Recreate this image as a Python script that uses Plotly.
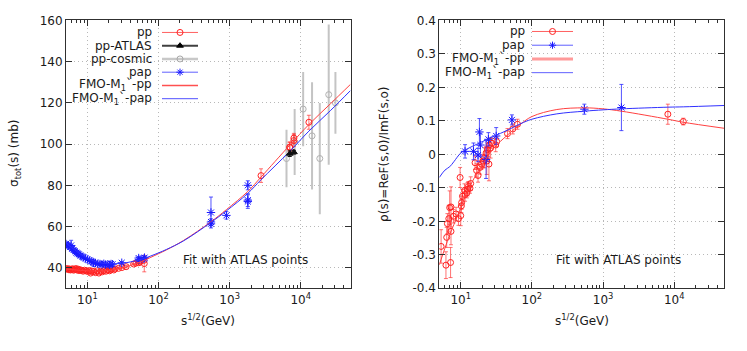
import plotly.graph_objects as go

# ---------------- sigma_tot data (left panel) ----------------
pp_lo_x = [5.0, 5.2, 5.5, 5.6, 5.8, 6.0, 6.2, 6.4, 6.6, 6.9, 7.1, 7.4, 7.6, 7.9, 8.3, 8.7,
           9.1, 9.6, 10.0, 10.6, 11.1, 11.5, 12.3, 13.0, 13.7, 14.5, 15.4, 16.2, 17.0, 18.2,
           19.4, 20.5, 21.7, 23.5, 24.5, 27.4, 30.6, 35.0, 44.7, 48.0, 52.8, 55.0, 62.5, 63.0]
pp_lo_y = [39.3, 39.6, 39.0, 39.4, 38.9, 39.2, 39.5, 38.8, 39.1, 39.6, 38.9, 39.3, 38.6, 39.0,
           38.7, 38.3, 38.8, 38.5, 38.2, 38.6, 37.4, 38.4, 38.1, 37.6, 38.5, 37.4, 38.3, 38.0,
           38.6, 38.3, 38.8, 38.5, 39.2, 38.9, 39.4, 39.7, 40.1, 40.5, 41.8, 42.2, 42.4, 42.8,
           43.6, 42.0]
pp_lo_err = [0.4, 0.5, 0.3, 0.6, 0.4, 0.3, 0.5, 0.4, 0.3, 0.6, 0.3, 0.4, 0.5, 0.3, 0.4, 0.5,
             0.3, 0.4, 0.6, 0.3, 0.7, 0.3, 0.4, 0.5, 0.3, 0.6, 0.4, 0.5, 0.3, 0.4, 0.3, 0.5,
             0.3, 0.3, 0.4, 0.3, 0.3, 0.6, 0.3, 0.8, 0.3, 0.7, 0.4, 4.0]

pp_hi_x = [2760, 7000, 7000, 8000, 8000, 13000]
pp_hi_y = [84.7, 98.3, 98.6, 101.7, 102.9, 110.6]
pp_hi_err = [3.3, 2.8, 2.2, 2.9, 2.3, 3.4]

atlas_x = [7000, 8000]
atlas_y = [95.35, 96.07]
atlas_err = [1.36, 0.92]

cosmic_x = [6300, 8200, 10800, 14400, 18500, 24700, 30700]
cosmic_y = [93, 101, 117, 104, 93, 124, 120]
cosmic_err = [14, 16, 18, 26, 27, 34, 15]

pap_x = [5.0, 5.2, 5.4, 5.7, 5.9, 6.1, 6.4, 6.7, 7.0, 7.3, 7.6, 8.0, 8.4, 8.9, 9.4, 10.0,
         10.6, 11.3, 12.0, 12.2, 13.0, 14.0, 15.0, 16.0, 17.0, 18.0, 19.4, 20.5, 21.5, 22.6,
         30.4, 52.6, 53.0, 62.3, 63.5, 546, 546, 546, 900, 1800, 1800, 1800]
pap_y = [51.5, 51.0, 50.6, 50.0, 50.8, 49.2, 48.6, 48.0, 47.3, 46.9, 46.5, 45.9, 45.4, 45.0,
         44.5, 44.0, 43.6, 43.1, 42.8, 42.3, 42.3, 41.9, 41.8, 41.6, 41.9, 41.5, 41.7, 41.4,
         41.8, 41.7, 42.4, 44.7, 43.9, 44.4, 44.9, 66.8, 62.2, 61.3, 65.4, 80.0, 72.8, 72.1]
pap_err = [0.6, 0.5, 0.6, 0.5, 2.5, 0.5, 0.4, 0.5, 0.4, 0.5, 0.4, 0.5, 0.4, 0.5, 0.4, 0.5,
           0.4, 0.4, 0.5, 1.6, 0.4, 0.4, 0.5, 0.4, 0.4, 0.5, 0.4, 0.4, 0.5, 0.4, 0.5, 0.6,
           0.9, 0.5, 0.8, 7.5, 1.5, 0.9, 1.8, 2.2, 3.1, 3.3]

fit_sig_x = [5, 6, 7, 8, 10, 12, 15, 20, 30, 40, 60, 100, 130, 224, 546, 900, 1800, 2760,
             7000, 13000, 26000, 50000]
fit_sig_pp = [39.3, 39.1, 38.9, 38.7, 38.5, 38.4, 38.4, 38.7, 39.8, 41.0, 43.3, 46.8, 48.7,
              53.2, 62.3, 68.2, 77.0, 84.0, 99.5, 109.5, 119.5, 129.0]
fit_sig_pap = [52.0, 49.8, 48.0, 46.6, 44.6, 43.4, 42.4, 41.9, 42.1, 42.8, 44.3, 47.2, 48.9,
               53.0, 62.0, 67.6, 76.1, 82.7, 96.5, 106.3, 116.2, 126.0]

# ---------------- rho data (right panel) ----------------
rho_pp_x = [5.3, 6.2, 7.2, 7.3, 6.35, 6.5, 6.8, 7.0, 7.3, 7.9, 8.6, 9.3, 10.0, 10.2, 10.3,
            9.8, 10.6, 11.3, 11.5, 12.2, 12.5, 12.8, 13.5, 13.8, 15.9, 16.7, 17.5, 18.7, 19.6,
            20.6, 21.6, 22.7, 23.2, 23.8, 24.9, 25.1, 26.3, 27.5, 31.0, 32.0, 45.4, 53.9,
            62.8, 8130, 13400]
rho_pp_y = [-0.275, -0.331, -0.323, -0.23, -0.248, -0.207, -0.192, -0.159, -0.157, -0.185,
            -0.178, -0.192, -0.183, -0.154, -0.144, -0.069, -0.125, -0.108, -0.12, -0.115,
            -0.104, -0.096, -0.101, -0.087, -0.025, -0.048, -0.063, -0.039, -0.029, -0.02,
            -0.01, 0.004, -0.02, 0.014, -0.029, 0.028, 0.019, 0.033, 0.028, 0.038, 0.062,
            0.076, 0.09, 0.12, 0.098]
rho_pp_err = [0.05, 0.04, 0.045, 0.04, 0.03, 0.03, 0.04, 0.05, 0.06, 0.02, 0.02, 0.02, 0.03,
              0.02, 0.02, 0.03, 0.02, 0.02, 0.02, 0.015, 0.02, 0.015, 0.015, 0.02, 0.02, 0.02,
              0.02, 0.02, 0.015, 0.02, 0.03, 0.02, 0.04, 0.02, 0.05, 0.02, 0.03, 0.015, 0.02,
              0.015, 0.015, 0.015, 0.015, 0.03, 0.01]

rho_pap_x = [11.5, 15.1, 17.5, 18.3, 18.9, 22.7, 24.5, 31.5, 52.4, 546, 1810]
rho_pap_y = [0.009, 0.009, -0.002, 0.067, 0.028, -0.015, 0.045, 0.055, 0.103, 0.135, 0.140]
rho_pap_err = [0.02, 0.025, 0.02, 0.04, 0.035, 0.057, 0.02, 0.025, 0.015, 0.015, 0.069]

fit_rho_x = [5, 6, 7, 8, 10, 12.5, 16.7, 20, 25, 30, 45, 70, 100, 224, 546, 1000, 1810,
             8130, 13400, 50000]
fit_rho_pp = [-0.33, -0.28, -0.24, -0.21, -0.16, -0.11, -0.058, -0.033, 0.0, 0.022, 0.057,
              0.091, 0.113, 0.134, 0.139, 0.136, 0.129, 0.105, 0.096, 0.078]
fit_rho_pap = [-0.069, -0.047, -0.037, -0.022, 0.004, 0.017, 0.030, 0.038, 0.047, 0.055,
               0.072, 0.092, 0.105, 0.121, 0.129, 0.133, 0.136, 0.141, 0.142, 0.146]

x_tickvals = [10, 100, 1000, 10000]
x_ticktext = ['10<sup>1</sup>', '10<sup>2</sup>', '10<sup>3</sup>', '10<sup>4</sup>']
sig_ticks = [40, 60, 80, 100, 120, 140, 160]
rho_ticks = [-0.4, -0.3, -0.2, -0.1, 0, 0.1, 0.2, 0.3, 0.4]
rho_ticktext = ['-0.4', '-0.3', '-0.2', '-0.1', '0', '0.1', '0.2', '0.3', '0.4']

RED = '#ff2020'
RED_ERR = 'rgba(255,40,40,0.65)'
BLUE = '#1a1aff'
BLUE_ERR = 'rgba(40,40,255,0.8)'
FONT = 'DejaVu Sans'
TXT = '#1a1a1a'
W, H = 747, 351


def px(x):
    return x / W


def py(y):
    return 1 - y / H


minor_vals = [m * 10 ** k for k in range(0, 5) for m in range(2, 10) if 5 <= m * 10 ** k <= 50000]

fig = go.Figure()


def data_trace(x, y, err, xa, ya, symbol, color, ecolor, size=6, ewidth=2, ethick=1, lw=1):
    return go.Scatter(
        x=x, y=y, mode='markers', xaxis=xa, yaxis=ya, showlegend=False,
        marker=dict(symbol=symbol, size=size, color=color, line=dict(color=color, width=lw)),
        error_y=dict(type='data', array=err, visible=True, color=ecolor,
                     thickness=ethick, width=ewidth)
    )


# left panel
fig.add_trace(data_trace(cosmic_x, cosmic_y, cosmic_err, 'x', 'y', 'circle-open', '#b0b0b0',
                         'rgba(190,190,190,0.9)', ewidth=0, ethick=2))
fig.add_trace(data_trace(pp_lo_x, pp_lo_y, pp_lo_err, 'x', 'y', 'circle-open', RED, RED_ERR))
fig.add_trace(data_trace(pp_hi_x, pp_hi_y, pp_hi_err, 'x', 'y', 'circle-open', RED, RED_ERR))
fig.add_trace(data_trace(pap_x, pap_y, pap_err, 'x', 'y', 'asterisk-open', BLUE, BLUE_ERR, size=7))
fig.add_trace(go.Scatter(x=fit_sig_x, y=fit_sig_pp, mode='lines', line_shape='spline',
                         line=dict(color='#ff4040', width=1), xaxis='x', yaxis='y', showlegend=False))
fig.add_trace(go.Scatter(x=fit_sig_x, y=fit_sig_pap, mode='lines', line_shape='spline',
                         line=dict(color='#3030ff', width=1), xaxis='x', yaxis='y', showlegend=False))
fig.add_trace(data_trace(atlas_x, atlas_y, atlas_err, 'x', 'y', 'triangle-up', '#101010',
                         '#101010', size=6, ewidth=2))

# right panel
fig.add_trace(data_trace(rho_pp_x, rho_pp_y, rho_pp_err, 'x2', 'y2', 'circle-open', RED, RED_ERR))
fig.add_trace(data_trace(rho_pap_x, rho_pap_y, rho_pap_err, 'x2', 'y2', 'asterisk-open', BLUE,
                         BLUE_ERR, size=7))
fig.add_trace(go.Scatter(x=fit_rho_x, y=fit_rho_pp, mode='lines', line_shape='spline',
                         line=dict(color='#ff4040', width=1), xaxis='x2', yaxis='y2', showlegend=False))
fig.add_trace(go.Scatter(x=fit_rho_x, y=fit_rho_pap, mode='lines', line_shape='spline',
                         line=dict(color='#3030ff', width=1), xaxis='x2', yaxis='y2', showlegend=False))

# gnuplot-style keys (text right, sample on the left)
annotations = []


def key(label, x_text, x0, x1, y, lcolor, lwidth, symbol=None, mcolor=None, msize=6):
    annotations.append(dict(x=px(x_text), y=py(y), xref='paper', yref='paper', text=label,
                            showarrow=False, xanchor='right', yanchor='middle',
                            font=dict(family=FONT, size=12, color=TXT)))
    fig.add_trace(go.Scatter(x=[x0, x1], y=[y, y], mode='lines', xaxis='x3', yaxis='y3',
                             line=dict(color=lcolor, width=lwidth), showlegend=False,
                             hoverinfo='skip'))
    if symbol:
        fig.add_trace(go.Scatter(x=[(x0 + x1) / 2], y=[y], mode='markers', xaxis='x3', yaxis='y3',
                                 marker=dict(symbol=symbol, size=msize, color=mcolor,
                                             line=dict(color=mcolor, width=1)),
                                 showlegend=False, hoverinfo='skip'))


left_keys = [
    ('pp', '#ff6060', 1, 'circle-open', RED),
    ('pp-ATLAS', '#404040', 2, 'triangle-up', '#000000'),
    ('pp-cosmic', '#c8c8c8', 2.5, 'circle-open', '#a8a8a8'),
    ('pap', '#6060ff', 1, 'asterisk-open', BLUE),
    ('FMO-M<sub>1</sub>`-pp', '#ff5050', 1.5, None, None),
    ('FMO-M<sub>1</sub>`-pap', '#5050ff', 1, None, None),
]
for i, (lab, lc, lw, sym, mc) in enumerate(left_keys):
    key(lab, 154, 162, 198, 26.5 + i * 13.8, lc, lw, sym, mc)

right_keys = [
    ('pp', '#ff6060', 1, 'circle-open', RED),
    ('pap', '#6060ff', 1, 'asterisk-open', BLUE),
    ('FMO-M<sub>1</sub>`-pp', '#ff9a9a', 3, None, None),
    ('FMO-M<sub>1</sub>`-pap', '#6060ff', 1, None, None),
]
for i, (lab, lc, lw, sym, mc) in enumerate(right_keys):
    key(lab, 527, 532, 573, 25.5 + i * 14.3, lc, lw, sym, mc)

# titles / notes
notes = [
    (15, 153, 'σ<sub>tot</sub>(s) (mb)', -90),
    (384, 153, 'ρ(s)=ReF(s,0)/ImF(s,o)', -90),
    (208, 326, 's<sup>1/2</sup>(GeV)', 0),
    (582, 326, 's<sup>1/2</sup>(GeV)', 0),
    (245, 263, 'Fit with ATLAS points', 0),
    (618, 263, 'Fit with ATLAS points', 0),
]
for nx, ny, txt, ang in notes:
    annotations.append(dict(x=px(nx), y=py(ny), text=txt, textangle=ang, xref='paper',
                            yref='paper', showarrow=False, xanchor='center', yanchor='middle',
                            font=dict(family=FONT, size=12, color=TXT)))

ydom = [py(293), py(14)]
xdom1 = [px(66), px(350.5)]
xdom2 = [px(439.3), px(724)]
GRID = dict(showgrid=True, gridcolor='#b8b8b8', griddash='1px,3px', gridwidth=1)
common_x = dict(
    type='log', range=[0.69897, 4.69897], tickmode='array', tickvals=x_tickvals,
    ticktext=x_ticktext, ticks='inside', ticklen=6, tickcolor='#303030', showline=True,
    linecolor='#303030', linewidth=1, mirror='ticks', zeroline=False, fixedrange=True,
    tickfont=dict(family=FONT, size=12, color=TXT), **GRID
)
# overlaid axes carrying only the minor log ticks
minor_x = dict(
    type='log', range=[0.69897, 4.69897], tickmode='array', tickvals=minor_vals,
    ticktext=['' for _ in minor_vals], ticks='inside', ticklen=3, tickcolor='#303030',
    showline=False, mirror='ticks', showgrid=False, zeroline=False, fixedrange=True,
)
common_y = dict(
    tickmode='array', ticks='inside', ticklen=6, tickcolor='#303030', showline=True,
    linecolor='#303030', linewidth=1, mirror='ticks', zeroline=False, fixedrange=True,
    tickfont=dict(family=FONT, size=12, color=TXT), **GRID
)

fig.update_layout(
    width=W, height=H,
    margin=dict(l=0, r=0, t=0, b=0),
    paper_bgcolor='white',
    plot_bgcolor='rgba(0,0,0,0)',
    font=dict(family=FONT, size=12, color=TXT),
    showlegend=False,
    xaxis=dict(common_x, domain=xdom1, anchor='y'),
    yaxis=dict(common_y, domain=ydom, range=[30, 160.02], tickvals=sig_ticks, anchor='x'),
    xaxis2=dict(common_x, domain=xdom2, anchor='y2'),
    yaxis2=dict(common_y, domain=ydom, range=[-0.4001, 0.4001], tickvals=rho_ticks,
                ticktext=rho_ticktext, anchor='x2'),
    xaxis3=dict(domain=[0, 1], range=[0, W], visible=False, fixedrange=True, anchor='y3'),
    yaxis3=dict(domain=[0, 1], range=[H, 0], visible=False, fixedrange=True, anchor='x3'),
    xaxis4=dict(minor_x, overlaying='x', anchor='y', side='bottom'),
    xaxis5=dict(minor_x, overlaying='x2', anchor='y2', side='bottom'),
    annotations=annotations,
)

# dummy traces so the minor-tick axes are drawn
fig.add_trace(go.Scatter(x=[10], y=[35], xaxis='x4', yaxis='y', mode='markers',
                         marker=dict(opacity=0), showlegend=False, hoverinfo='skip'))
fig.add_trace(go.Scatter(x=[10], y=[-0.39], xaxis='x5', yaxis='y2', mode='markers',
                         marker=dict(opacity=0), showlegend=False, hoverinfo='skip'))

# drop the default page margin so the figure sits at the window origin
fig.write_html('out.html', config={'displayModeBar': False},
               post_script="document.body.style.margin='0';document.body.style.overflow='hidden';")
